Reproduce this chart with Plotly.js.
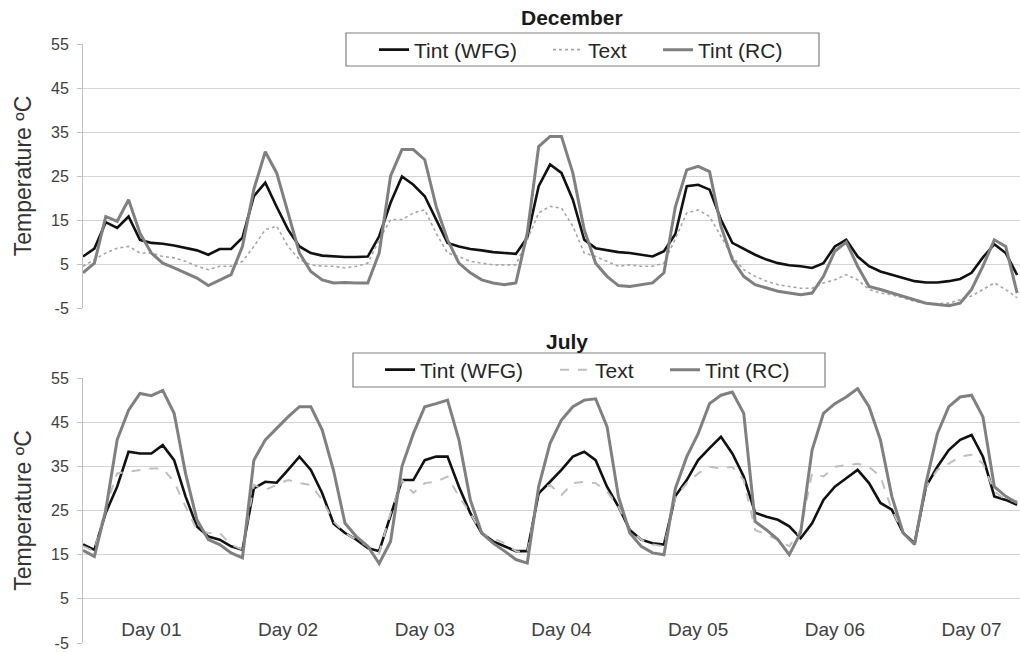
<!DOCTYPE html>
<html>
<head>
<meta charset="utf-8">
<script src="https://cdn.plot.ly/plotly-3.0.1.min.js"></script>
<style>html,body{margin:0;padding:0;background:#fff;}#chart{width:1020px;height:653px;}</style>
</head>
<body>
<div id="chart"></div>
<script>
// time axis (hours from start of the 7-day record)
const hours = [
  0,2,4,6,8,10,
  12,14,16,18,20,22,
  24,26,28,30,32,34,
  36,38,40,42,44,46,
  48,50,52,54,56,58,
  60,62,64,66,68,70,
  72,74,76,78,80,82,
  84,86,88,90,92,94,
  96,98,100,102,104,106,
  108,110,112,114,116,118,
  120,122,124,126,128,130,
  132,134,136,138,140,142,
  144,146,148,150,152,154,
  156,158,160,162,164
];
const dayLabels = ['Day 01','Day 02','Day 03','Day 04','Day 05','Day 06','Day 07'];
const seriesNames = ['Tint (WFG)','Text','Tint (RC)'];
const panelTitles = ['December','July'];

// December (°C)
const decWFG = [
  6.7, 8.5, 14.5, 13.2, 15.8, 10.5,
  9.8, 9.6, 9.2, 8.6, 8.1, 7.1,
  8.4, 8.4, 11, 20.4, 23.5, 18,
  12.8, 9, 7.5, 6.9, 6.7, 6.6,
  6.6, 6.7, 11.3, 18.9, 24.9, 23,
  20.4, 15.1, 9.8, 9, 8.4, 8.1,
  7.7, 7.5, 7.3, 11, 22.7, 27.6,
  25.7, 19.6, 10.5, 8.6, 8.1, 7.7,
  7.5, 7.1, 6.7, 7.9, 11.8, 22.7,
  23, 21.9, 15.1, 9.8, 8.4, 7.1,
  6, 5.2, 4.7, 4.5, 4.1, 5.2,
  9, 10.5, 6.7, 4.5, 3.3, 2.6,
  1.8, 1.1, 0.8, 0.8, 1.1, 1.6,
  3, 6.5, 9.5, 7.5, 2.5
];
const decText = [
  4.5, 6, 7.5, 8.6, 9, 7.5,
  7.5, 6.7, 6.4, 5.6, 4.5, 3.7,
  4.5, 4.5, 5.6, 9, 12.8, 13.6,
  9, 6, 4.8, 4.5, 4.5, 4.1,
  4.5, 5.2, 10.5, 15.1, 15.1, 16.6,
  17.3, 12, 7.5, 6.7, 5.6, 5.2,
  4.8, 4.8, 4.8, 10.5, 16.6, 18.1,
  17.7, 13.6, 7.5, 6.7, 5.6, 4.5,
  4.8, 4.5, 4.5, 5.2, 10.8, 16.6,
  17.3, 15.8, 11.3, 6.7, 3.7, 2.2,
  1.1, 0.3, -0.1, -0.5, -0.5, 0.7,
  1.4, 2.6, 1.4, -0.8, -1.6, -2,
  -2.7, -3.5, -3.9, -4, -3.9, -3.1,
  -2.3, -0.8, 0.7, -0.8, -2.7
];
const decRC = [
  3, 5.2, 15.8, 14.7, 19.6, 12,
  7.5, 5.2, 4.1, 3, 1.8, 0.1,
  1.4, 2.6, 9, 22, 30.5, 25.7,
  16.6, 7.5, 3.3, 1.4, 0.7, 0.8,
  0.7, 0.7, 7.5, 25, 31, 31,
  28.7, 18.1, 10.5, 5.2, 3, 1.4,
  0.7, 0.3, 0.7, 12, 31.7, 34,
  34, 25.7, 12.8, 5.2, 2.2, 0.1,
  -0.1, 0.3, 0.7, 3, 18, 26.4,
  27.2, 26, 13.6, 6, 2.2, 0.3,
  -0.5, -1.2, -1.6, -2, -1.6, 2.2,
  7.9, 10, 4.5, -0.1, -0.8, -1.6,
  -2.3, -3.1, -3.9, -4.2, -4.5, -3.9,
  -0.8, 4.5, 10.5, 9, -1.6
];

// July (°C)
const julWFG = [
  17.3, 16.1, 24.5, 30.4, 38.3, 37.9,
  37.9, 39.8, 36.4, 28.2, 21.4, 19.1,
  18.4, 16.9, 16.1, 30, 31.5, 31.3,
  34.2, 37.2, 34.2, 28.9, 22, 19.9,
  18.4, 16.5, 15.8, 23.6, 31.9, 31.9,
  36.4, 37.2, 37.2, 30.4, 24.4, 19.9,
  18, 16.9, 15.8, 15.8, 28.9, 31.5,
  34.2, 37.2, 38.3, 36.4, 30.4, 25.9,
  20.6, 18.4, 17.6, 17.3, 28.3, 31.9,
  36.4, 39.1, 41.7, 37.9, 32.7, 24.5,
  23.6, 22.9, 21.4, 18.7, 22.1, 27.4,
  30.4, 32.3, 34.2, 31.2, 26.7, 25.2,
  19.9, 17.6, 30.4, 34.9, 38.7, 41,
  42.1, 37.2, 28.2, 27.4, 26.3
];
const julText = [
  16.9, 15.8, 25.9, 33.4, 33.8, 34.2,
  34.5, 34.5, 31.5, 25.9, 20.6, 19.9,
  19.9, 17.3, 16.1, 30.8, 29.7, 30.8,
  31.9, 31.2, 30.8, 27.4, 22.5, 19.9,
  18.4, 16.9, 15.4, 24.4, 31.9, 29,
  31.2, 31.5, 32.7, 28.2, 24.4, 19.9,
  18.8, 17.6, 15.8, 15.4, 29.7, 30.8,
  28.5, 31.2, 31.5, 31.2, 29.3, 25.9,
  20.6, 18.4, 17.3, 16.9, 28, 31.2,
  33.4, 34.9, 34.5, 34.9, 31.9, 20.6,
  19.5, 18.4, 16.9, 20.6, 33.4, 32.7,
  34.9, 35.3, 35.6, 34.9, 32.7, 25.2,
  19.9, 17.6, 30.4, 34.2, 35.6, 37.2,
  37.6, 35.6, 29.3, 27.4, 27.1
];
const julRC = [
  16, 14.6, 25.1, 41, 47.7, 51.5,
  51, 52.2, 47, 33.4, 22.9, 18.4,
  17.3, 15.4, 14.3, 36.4, 41, 43.6,
  46.2, 48.5, 48.5, 43.2, 34, 22.1,
  19.1, 16.9, 13, 18, 35, 42.4,
  48.5, 49.2, 50, 41, 27.4, 19.9,
  17.6, 15.8, 13.9, 13.1, 30.4, 40.2,
  45.5, 48.5, 50, 50.3, 44, 28.2,
  19.9, 16.9, 15.4, 15, 30, 37.2,
  42.4, 49.2, 51.1, 51.8, 47, 22.5,
  20.6, 18.4, 15, 20, 38.7, 47,
  49.2, 50.7, 52.6, 48.5, 41, 28.2,
  19.9, 17.3, 31.2, 42.4, 48.5, 50.7,
  51.1, 46.2, 30.4, 28.2, 26.7
];

const W = 1020, H = 653, L = 83;
const px2x = p => (p - L) / (W - L);
const py2y = p => 1 - p / H;

const styles = [
  {color: '#111111', width: 2.6, dash: 'solid'},
  {color: '#a6a6a6', width: 1.6, dash: 'dot'},
  {color: '#808080', width: 3, dash: 'solid'}
];
const julTextStyle = {color: '#bfbfbf', width: 2, dash: 'dash'};

const decSeries = [decWFG, decText, decRC];
const julSeries = [julWFG, julText, julRC];

const traces = [];
decSeries.forEach((ys, i) => {
  traces.push({x: hours, y: ys, type: 'scatter', mode: 'lines', name: seriesNames[i],
    xaxis: 'x', yaxis: 'y', line: styles[i], legend: i === 0 ? 'legend' : 'legend' + (i + 1),
    hoverinfo: 'skip'});
});
julSeries.forEach((ys, i) => {
  traces.push({x: hours, y: ys, type: 'scatter', mode: 'lines', name: seriesNames[i],
    xaxis: 'x2', yaxis: 'y2', line: i === 1 ? julTextStyle : styles[i], legend: 'legend' + (i + 4),
    hoverinfo: 'skip'});
});

const yTicks = [-5, 5, 15, 25, 35, 45, 55];
const yAxisBase = {
  range: [-5, 55], tickmode: 'array', tickvals: yTicks, ticktext: yTicks.map(String),
  showgrid: false, zeroline: false, showline: true, linecolor: '#bfbfbf', linewidth: 1,
  ticks: 'outside', ticklen: 5, tickcolor: '#bfbfbf', ticklabelstandoff: 5,
  tickfont: {family: 'Liberation Sans, Arial, sans-serif', size: 16, color: '#404040'},
  minor: {tickmode: 'array', tickvals: [5, 15, 25, 35, 45], showgrid: true, gridcolor: '#d4d4d4', gridwidth: 1, ticks: ''},
  title: {text: 'Temperature ºC', standoff: 12,
    font: {family: 'Liberation Sans, Arial, sans-serif', size: 23, color: '#333333'}},
  automargin: false, fixedrange: true
};
const xRange = [0, (W - L) * 24 / 136.7];

const legendBase = (xp, yp) => ({
  x: px2x(xp), y: py2y(yp), xanchor: 'left', yanchor: 'middle', orientation: 'h',
  bgcolor: 'rgba(0,0,0,0)', borderwidth: 0,
  font: {family: 'Liberation Sans, Arial, sans-serif', size: 21, color: '#262626'}
});

const layout = {
  width: W, height: H,
  margin: {l: L, r: 0, t: 0, b: 0, autoexpand: false},
  paper_bgcolor: '#ffffff', plot_bgcolor: '#ffffff',
  showlegend: true,
  xaxis: {domain: [0, 1], range: xRange, anchor: 'y', showgrid: false, zeroline: false,
    showline: false, showticklabels: false, ticks: '', fixedrange: true},
  yaxis: Object.assign({}, yAxisBase, {domain: [py2y(308), py2y(44)], anchor: 'x'}),
  xaxis2: {domain: [0, 1], range: xRange, anchor: 'free', position: py2y(616),
    showgrid: false, zeroline: false, showline: false, ticks: '',
    tickmode: 'array', tickvals: dayLabels.map((_, i) => i * 24 + 12), ticktext: dayLabels,
    tickfont: {family: 'Liberation Sans, Arial, sans-serif', size: 19, color: '#404040'},
    fixedrange: true},
  yaxis2: Object.assign({}, yAxisBase, {domain: [py2y(643), py2y(378)], anchor: 'x2'}),
  legend: legendBase(374, 50),
  legend2: legendBase(548, 50),
  legend3: legendBase(658, 50),
  legend4: legendBase(380, 370),
  legend5: legendBase(555, 370),
  legend6: legendBase(665, 370),
  shapes: [
    {type: 'rect', xref: 'paper', yref: 'paper', x0: px2x(346), x1: px2x(819), y0: py2y(66), y1: py2y(33),
      line: {color: '#7f7f7f', width: 1.2}, fillcolor: '#ffffff', layer: 'above'},
    {type: 'rect', xref: 'paper', yref: 'paper', x0: px2x(353), x1: px2x(825), y0: py2y(387), y1: py2y(353),
      line: {color: '#7f7f7f', width: 1.2}, fillcolor: '#ffffff', layer: 'above'}
  ],
  annotations: [
    {text: '<b>' + panelTitles[0] + '</b>', xref: 'paper', yref: 'paper', x: px2x(572), y: py2y(17),
      xanchor: 'center', yanchor: 'middle', showarrow: false,
      font: {family: 'Liberation Sans, Arial, sans-serif', size: 21, color: '#1a1a1a'}},
    {text: '<b>' + panelTitles[1] + '</b>', xref: 'paper', yref: 'paper', x: px2x(567), y: py2y(341),
      xanchor: 'center', yanchor: 'middle', showarrow: false,
      font: {family: 'Liberation Sans, Arial, sans-serif', size: 21, color: '#1a1a1a'}}
  ]
};

Plotly.newPlot('chart', traces, layout, {staticPlot: true, displayModeBar: false});
</script>
</body>
</html>
